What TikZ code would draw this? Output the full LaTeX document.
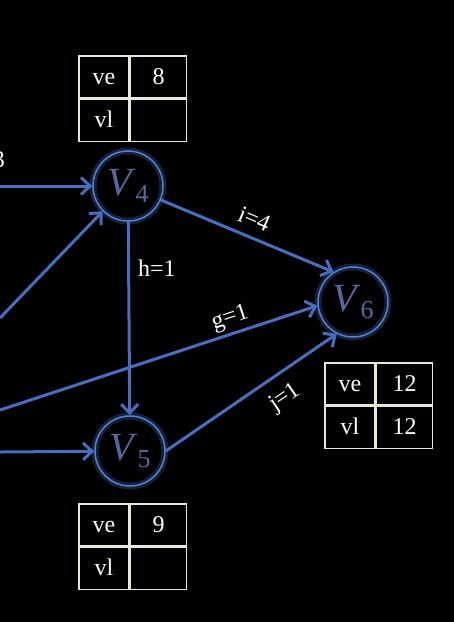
\documentclass[tikz,border=0pt]{standalone}
\usepackage{fontspec}
\setmainfont{Liberation Serif}
\usetikzlibrary{arrows.meta,positioning}
\definecolor{edgeblue}{RGB}{72,110,192}
\definecolor{ringblue}{RGB}{88,128,208}
\definecolor{vtext}{RGB}{84,106,158}
\definecolor{gridcream}{RGB}{232,232,214}
\newcommand{\vname}[1]{\textit{V}\raisebox{-0.35ex}{\fontsize{26}{28}\selectfont #1}}
\tikzset{
  vertex/.style  = {circle,draw=ringblue,line width=1.5pt,minimum size=70pt,inner sep=0pt,
                    font=\fontsize{40}{44}\selectfont,text=vtext,
                    preaction={draw=edgeblue,line width=7pt,opacity=0.3}},
  arc/.style     = {-{Straight Barb[length=9pt,width=17pt]},line width=3pt,color=edgeblue},
  wlabel/.style  = {text=white,font=\fontsize{24}{26}\selectfont,inner sep=5pt},
  keycell/.style = {draw=gridcream,line width=1.5pt,minimum width=50pt,minimum height=42pt,
                    inner sep=0pt,text=white,text height=16pt,text depth=2pt,
                    font=\fontsize{24}{26}\selectfont},
  valcell/.style = {keycell,minimum width=56pt},
}
\begin{document}
\begin{tikzpicture}[x=1pt,y=-1pt]
  \useasboundingbox (0,0) rectangle (454,622);
  \fill[black] (0,0) rectangle (454,622);

  % vertices
  \node[vertex] (V4) at (128,186) {\vname{4}};
  \node[vertex] (V5) at (130,451) {\vname{5}};
  \node[vertex] (V6) at (353,302) {\vname{6}};

  % ve / vl tables
  \node[keycell] (ve4) at (104,77) {ve};
  \node[valcell,right=0pt of ve4] (ve4v) {8};
  \node[keycell,below=0pt of ve4] (vl4) {vl};
  \node[valcell,right=0pt of vl4] (vl4v) {};

  \node[keycell] (ve5) at (104,525) {ve};
  \node[valcell,right=0pt of ve5] (ve5v) {9};
  \node[keycell,below=0pt of ve5] (vl5) {vl};
  \node[valcell,right=0pt of vl5] (vl5v) {};

  \node[keycell] (ve6) at (350,384) {ve};
  \node[valcell,right=0pt of ve6] (ve6v) {12};
  \node[keycell,below=0pt of ve6] (vl6) {vl};
  \node[valcell,right=0pt of vl6] (vl6v) {12};

  % edges coming in from the left
  \coordinate (s4)  at (0,186);
  \coordinate (s4b) at (0,318);
  \coordinate (sg)  at (0,410);
  \coordinate (s5)  at (0,452);
  \node[wlabel] (c3) at (-1,160) {3};

  \draw[arc] (s4) -- (V4);
  \draw[arc] (s4b) -- (V4.225);
  \draw[arc] (sg) -- (V6.186) node[wlabel,sloped,above,pos=0.74,inner sep=3pt] (g) {g=1};
  \draw[arc] (s5) -- (V5);

  % inner edges
  \draw[arc] (V4) -- (V5) node[wlabel,right,pos=0.24,inner sep=8pt] (h) {h=1};
  \draw[arc] (V4.-23) -- (V6.123) node[wlabel,sloped,above,pos=0.5,inner sep=9pt] (i) {i=4};
  \draw[arc] (V5.east) -- (V6.243) node[wlabel,sloped,below,pos=0.62,inner sep=12pt] (j) {j=1};
\end{tikzpicture}
\end{document}
